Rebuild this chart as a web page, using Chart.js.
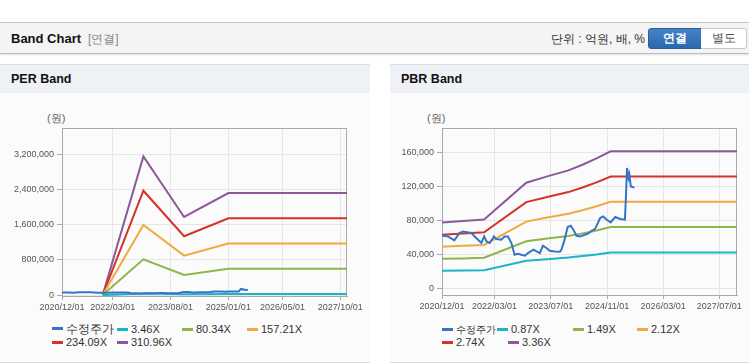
<!DOCTYPE html>
<html>
<head>
<meta charset="utf-8">
<script src="https://cdn.jsdelivr.net/npm/chart.js@4.4.0/dist/chart.umd.min.js"></script>
<style>
  body { margin: 0; width: 749px; height: 364px; background: #fff; position: relative; overflow: hidden;
         font-family: "Liberation Sans", Arial, sans-serif; }
  .topbar { position: absolute; left: 0; top: 22px; width: 749px; height: 30px; background: #f4f4f4;
            border-top: 1px solid #c8c8c8; border-bottom: 1px solid #bcbcbc; box-shadow: 0 1px 2px rgba(0,0,0,.12); }
  .topbar .title { position: absolute; left: 11px; top: 8px; font-size: 13px; font-weight: bold; color: #111; }
  .topbar .sub { position: absolute; left: 88px; top: 8px; font-size: 12px; color: #888; }
  .topbar .unit { position: absolute; left: 551px; top: 8px; font-size: 12px; color: #333; }
  .btn { position: absolute; top: 5px; height: 19px; line-height: 19px; text-align: center; font-size: 12px; }
  .btn.on { left: 648px; width: 52px; color: #fff; font-weight: bold; border: 1px solid #2a5c9c; border-radius: 3px 0 0 3px;
            background: linear-gradient(#4583c9, #2c67ac); }
  .btn.off { left: 701px; width: 45px; color: #555; border: 1px solid #c8c8c8; border-left: none; border-radius: 0 3px 3px 0; background: #fff; }
  .panel { position: absolute; top: 64px; height: 297px; background: #fbfbfb; border-top: 1px solid #dcdcdc; border-bottom: 1px solid #dcdcdc; }
  .panel .hd { height: 28px; line-height: 29px; background: #eef2f7; padding-left: 11px; font-size: 12.5px; font-weight: bold; color: #111; }
  .unitlbl { position: absolute; top: 111px; font-size: 11px; color: #666; }
  .chartbox { position: absolute; top: 95px; }
  .lg { position: absolute; height: 13px; line-height: 13px; font-size: 11px; color: #333; white-space: nowrap; }
  .lg i { display: inline-block; width: 11px; height: 3px; margin-right: 3px; vertical-align: middle; position: relative; top: -1px; }
</style>
</head>
<body>
<div class="topbar">
  <span class="title">Band Chart</span><span class="sub">[연결]</span>
  <span class="unit">단위 : 억원, 배, %</span>
  <div class="btn on">연결</div><div class="btn off">별도</div>
</div>

<div class="panel" style="left:0;width:370px"><div class="hd">PER Band</div></div>
<div class="panel" style="left:390px;width:359px"><div class="hd">PBR Band</div></div>
<div class="unitlbl" style="left:47px">(원)</div>
<div class="unitlbl" style="left:427px">(원)</div>
<div class="chartbox" style="left:0"><canvas id="perChart" width="370" height="225"></canvas></div>
<div class="chartbox" style="left:380px"><canvas id="pbrChart" width="369" height="225"></canvas></div>
<div id="perLegend"></div>
<div id="pbrLegend"></div>

<script>
// ---- axis ticks ----
const perXTickLabels = ['2020/12/01', '2022/03/01', '2023/08/01', '2025/01/01', '2026/05/01', '2027/10/01'];
const pbrXTickLabels = ['2020/12/01', '2022/03/01', '2023/07/01', '2024/11/01', '2026/03/01', '2027/07/01'];
const perYTicks = [0, 800000, 1600000, 2400000, 3200000];
const pbrYTicks = [0, 40000, 80000, 120000, 160000];

// ---- adjusted price (수정주가), shared by both charts ----
const priceDates = ['2020/12/01', '2021/01/22', '2021/03/18', '2021/05/01', '2021/06/01', '2021/08/13', '2021/09/10',
  '2021/10/25', '2021/11/07', '2021/12/01', '2021/12/22', '2022/01/19', '2022/02/24', '2022/03/16', '2022/04/28',
  '2022/05/28', '2022/06/25', '2022/07/25', '2022/08/22', '2022/09/22', '2022/10/19', '2022/11/19', '2022/12/16',
  '2023/02/01', '2023/02/28', '2023/03/28', '2023/04/25', '2023/05/25', '2023/06/22', '2023/08/04', '2023/09/19',
  '2023/10/01', '2023/10/25', '2023/11/25', '2023/12/22', '2024/01/13', '2024/02/10', '2024/03/10', '2024/04/22',
  '2024/05/19', '2024/06/25', '2024/07/19', '2024/09/01', '2024/09/28', '2024/10/28', '2024/12/01', '2025/01/10',
  '2025/02/22', '2025/04/04', '2025/04/12', '2025/04/22', '2025/05/05', '2025/05/12', '2025/05/25', '2025/06/25'];
const priceValues = [62100, 60900, 56200, 64900, 66800, 64900, 60900,
  55000, 53100, 60900, 55000, 53100, 60900, 57800, 57000,
  60900, 60900, 53100, 39300, 40500, 39300, 38100, 41300,
  45200, 43200, 41300, 49900, 47200, 44000, 43200, 42800,
  45200, 55000, 72000, 73500, 68800, 61700, 60900, 62900,
  64100, 68000, 69600, 82600, 84500, 80600, 77400, 83800,
  81400, 80600, 105000, 141600, 130000, 134000, 119900, 118700];

// ---- PER band ----
const perNames = ['수정주가', '3.46X', '80.34X', '157.21X', '234.09X', '310.96X'];
const perBandDates = ['2021/12/01', '2022/12/01', '2023/12/01', '2025/01/01', '2027/12/01'];
const per346 = [0, 35100, 19800, 25800, 25800];
const per8034 = [0, 814600, 459100, 599300, 599300];
const per15721 = [0, 1594100, 898500, 1172800, 1172800];
const per23409 = [0, 2373700, 1337900, 1746300, 1746300];
const per31096 = [0, 3153100, 1777100, 2319800, 2319800];

// ---- PBR band ----
const pbrNames = ['수정주가', '0.87X', '1.49X', '2.12X', '2.74X', '3.36X'];
const pbrBandDates = ['2020/12/01', '2021/06/01', '2021/12/01', '2022/12/01', '2023/06/01', '2023/12/01',
  '2024/04/01', '2024/08/01', '2024/12/01', '2027/12/01'];
const pbr087 = [20400, 20600, 20900, 32200, 34100, 35900, 37700, 39600, 41900, 41900];
const pbr149 = [34600, 35000, 35800, 55100, 58400, 61500, 64500, 67800, 72000, 72000];
const pbr212 = [48800, 49800, 50900, 78400, 83100, 87600, 91800, 96500, 101800, 101800];
const pbr274 = [63000, 64400, 65800, 101400, 107400, 113200, 118600, 124700, 131500, 131500];
const pbr336 = [77300, 79000, 80800, 124300, 131700, 138800, 145500, 152900, 161300, 161300];

const seriesColors = ['#3574c8', '#1db3c9', '#8db54c', '#f0aa3f', '#d2332a', '#8d589c'];

const day0 = Date.UTC(2020, 11, 1);
function dayOf(s) {
  const p = s.split('/');
  return (Date.UTC(+p[0], +p[1] - 1, +p[2]) - day0) / 86400000;
}
function pts(dates, vals) {
  return dates.map((d, i) => ({ x: dayOf(d), y: vals[i] }));
}

const frame = {
  id: 'frame',
  beforeDatasetsDraw(chart) {
    const a = chart.chartArea, ctx = chart.ctx;
    ctx.save();
    ctx.strokeStyle = '#aaaaaa';
    ctx.lineWidth = 1;
    ctx.strokeRect(Math.round(a.left) + 0.5, Math.round(a.top) + 0.5,
      Math.round(a.right - a.left) - 1, Math.round(a.bottom - a.top));
    ctx.restore();
  }
};

function bandChart(id, names, bands, bandDates, xLabels, yTicks, yMin, yMax, padRight, xAxisH) {
  const datasets = [{ label: names[0], data: pts(priceDates, priceValues), borderColor: seriesColors[0] }];
  bands.forEach((vals, i) => {
    datasets.push({ label: names[i + 1], data: pts(bandDates, vals), borderColor: seriesColors[i + 1] });
  });
  return new Chart(document.getElementById(id), {
    type: 'line',
    data: { datasets: datasets },
    plugins: [frame],
    options: {
      responsive: false,
      animation: false,
      layout: { padding: { top: 33, right: padRight, left: 0, bottom: 0 } },
      plugins: { legend: { display: false }, tooltip: { enabled: false } },
      elements: { point: { radius: 0 }, line: { borderWidth: 2, tension: 0 } },
      scales: {
        x: {
          type: 'linear',
          min: 0,
          max: dayOf('2027/12/01'),
          afterBuildTicks: s => { s.ticks = xLabels.map(l => ({ value: dayOf(l) })); },
          afterFit: s => { s.height = xAxisH; },
          ticks: { autoSkip: false, maxRotation: 0, padding: 2, color: '#555',
                   font: { family: 'Liberation Sans', size: 9 }, callback: (v, i) => xLabels[i] },
          grid: { color: '#e6e6e6', tickColor: '#aaaaaa', tickLength: 4 },
          border: { color: '#aaaaaa' }
        },
        y: {
          min: yMin,
          max: yMax,
          afterBuildTicks: s => { s.ticks = yTicks.map(v => ({ value: v })); },
          afterFit: s => { s.width = 62; },
          ticks: { padding: 3, color: '#555', font: { family: 'Liberation Sans', size: 9 },
                   callback: v => v.toLocaleString('en-US') },
          grid: { color: '#e6e6e6', tickColor: '#aaaaaa', tickLength: 5 },
          border: { color: '#aaaaaa' }
        }
      }
    }
  });
}

bandChart('perChart', perNames, [per346, per8034, per15721, per23409, per31096], perBandDates,
  perXTickLabels, perYTicks, -20000, 3800000, 23, 24);
bandChart('pbrChart', pbrNames, [pbr087, pbr149, pbr212, pbr274, pbr336], pbrBandDates,
  pbrXTickLabels, pbrYTicks, -8200, 188800, 12, 25);

// legend (HTML so that the items sit on the same grid as the original)
function legend(elId, names, slots, koSize) {
  const el = document.getElementById(elId);
  names.forEach((n, i) => {
    const d = document.createElement('div');
    d.className = 'lg';
    d.style.left = slots[i][0] + 'px';
    d.style.top = (slots[i][1] - 7) + 'px';
    if (i === 0) d.style.fontSize = koSize + 'px';
    d.innerHTML = '<i style="background:' + seriesColors[i] + '"></i>' + n;
    el.appendChild(d);
  });
}
legend('perLegend', perNames, [[52, 330], [117, 330], [182, 330], [247, 330], [52, 343], [117, 343]], 12);
legend('pbrLegend', pbrNames, [[442, 330], [497, 330], [573, 330], [637, 330], [442, 343], [508, 343]], 10);
</script>
</body>
</html>
